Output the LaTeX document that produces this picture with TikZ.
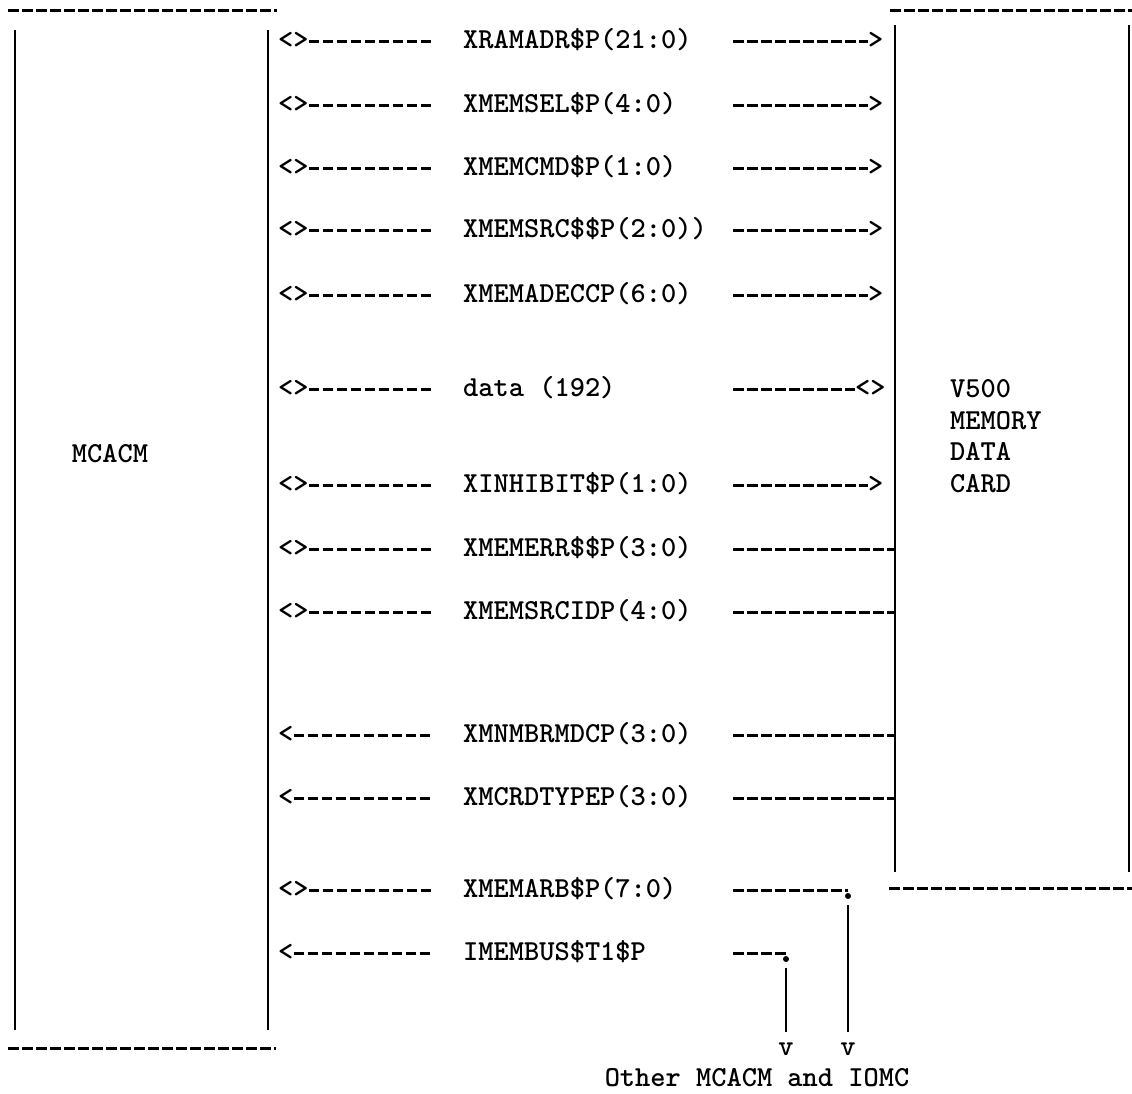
\documentclass[tikz,border=0pt]{standalone}
\usepackage{fontspec}
\setmonofont{lmmonolt10-bold.otf}
\usetikzlibrary{positioning}

\begin{document}
\begin{tikzpicture}[
    x=1pt, y=-1pt,
    every node/.style={font=\ttfamily\fontsize{29}{32}\selectfont, inner sep=0pt, text height=19pt, text depth=4pt},
    lft/.style={anchor=west},
    sig/.style={anchor=west},
    rgt/.style={anchor=west},
    dot/.style={circle, fill, inner sep=0pt, minimum size=6pt, text height=, text depth=},
    dashln/.style={line width=3pt, dash pattern=on 10.5pt off 3.5pt},
    wall/.style={line width=2.2pt}
]
\useasboundingbox (0,0) rectangle (1132,1093);

% MCACM box
\draw[dashln] (8,10) -- (277,10);
\draw[wall] (15,30) -- (15,1030);
\draw[wall] (268,30) -- (268,1030);
\draw[dashln] (8,1048) -- (276,1048);
\node (mcacm) at (110,455) {MCACM};

% Memory data card box
\draw[dashln] (890,10) -- (1132,10);
\draw[wall] (895,25) -- (895,872);
\draw[wall] (1129,25) -- (1129,872);
\draw[dashln] (889,888) -- (1132,888);
\node[anchor=west] (card1) at (950,390) {V500};
\node[anchor=west] (card2) at (950,422) {MEMORY};
\node[anchor=west] (card3) at (950,453) {DATA};
\node[anchor=west] (card4) at (950,485) {CARD};

% Columns
\coordinate (lcol) at (432,0);
\coordinate (rcol) at (733,0);
\coordinate (cardw) at (895,0);

% Signal rows
\node[lft] (l1) at (278,41) {<>};
\node[sig] (s1) at (463,41) {XRAMADR\$P(21:0)};
\node[rgt] (r1) at (868,41) {>};
\node[lft] (l2) at (278,105) {<>};
\node[sig] (s2) at (463,105) {XMEMSEL\$P(4:0)};
\node[rgt] (r2) at (868,105) {>};
\node[lft] (l3) at (278,168) {<>};
\node[sig] (s3) at (463,168) {XMEMCMD\$P(1:0)};
\node[rgt] (r3) at (868,168) {>};
\node[lft] (l4) at (278,230) {<>};
\node[sig] (s4) at (463,230) {XMEMSRC\$\$P(2:0))};
\node[rgt] (r4) at (868,230) {>};
\node[lft] (l5) at (278,295) {<>};
\node[sig] (s5) at (463,295) {XMEMADECCP(6:0)};
\node[rgt] (r5) at (868,295) {>};
\node[lft] (l6) at (278,389) {<>};
\node[sig] (s6) at (463,389) {data (192)};
\node[rgt] (r6) at (855,389) {<>};
\node[lft] (l7) at (278,485) {<>};
\node[sig] (s7) at (463,485) {XINHIBIT\$P(1:0)};
\node[rgt] (r7) at (868,485) {>};
\node[lft] (l8) at (278,549) {<>};
\node[sig] (s8) at (463,549) {XMEMERR\$\$P(3:0)};
\node[lft] (l9) at (278,612) {<>};
\node[sig] (s9) at (463,612) {XMEMSRCIDP(4:0)};
\node[lft] (l10) at (278,735) {<};
\node[sig] (s10) at (463,735) {XMNMBRMDCP(3:0)};
\node[lft] (l11) at (278,798) {<};
\node[sig] (s11) at (463,798) {XMCRDTYPEP(3:0)};
\node[lft] (l12) at (278,890) {<>};
\node[sig] (s12) at (463,890) {XMEMARB\$P(7:0)};
\node[lft] (l13) at (278,953) {<};
\node[sig] (s13) at (463,953) {IMEMBUS\$T1\$P};

% Junctions to other units
\node[dot] (j12) at (848,896) {};
\node[dot] (j13) at (786,959) {};
\node (v12) at (848,1048) {v};
\node (v13) at (786,1048) {v};
\node (other) at (757,1079) {Other MCACM and IOMC};

% Dashed connectors
\foreach \i in {1,...,13}
    \draw[dashln] (l\i.east) -- (lcol |- l\i);
\foreach \i in {1,2,3,4,5,6,7}
    \draw[dashln] (rcol |- s\i) -- (r\i.west);
\foreach \i in {8,9,10,11}
    \draw[dashln] (rcol |- s\i) -- (cardw |- s\i);
\draw[dashln] (rcol |- s12) -- (j12 |- s12);
\draw[dashln] (rcol |- s13) -- (j13 |- s13);

% Drops
\draw[wall, shorten <=6pt, shorten >=4pt] (j12) -- (v12);
\draw[wall, shorten <=6pt, shorten >=4pt] (j13) -- (v13);

\end{tikzpicture}
\end{document}
